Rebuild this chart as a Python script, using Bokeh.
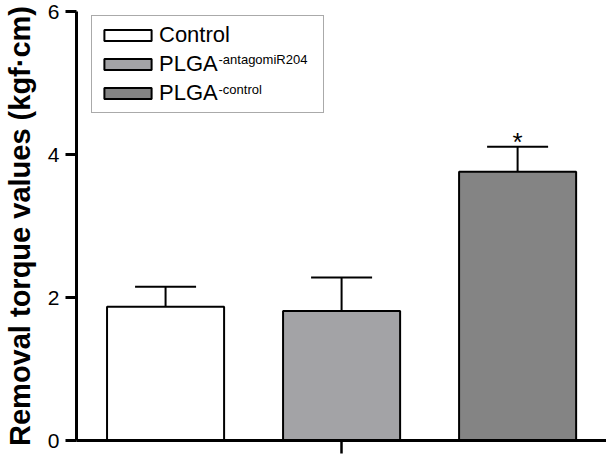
from bokeh.plotting import figure
from bokeh.models import (Range1d, FixedTicker, ColumnDataSource, Whisker, TeeHead,
                          Legend, LegendItem, Label)
from bokeh.core.properties import value
from bokeh.embed import file_html
from bokeh.resources import INLINE

# ---- data ----
groups = ["Control", "PLGA-antagomiR204", "PLGA-control"]
positions = [1, 2, 3]
means = [1.87, 1.81, 3.76]
errors = [0.28, 0.47, 0.35]
marks = ["", "", "*"]
fills = ["#ffffff", "#a3a3a6", "#848484"]
legend_main = ["Control", "PLGA", "PLGA"]
legend_sup = ["", "-antagomiR204", "-control"]
y_ticks = [0, 2, 4, 6]
y_label = "Removal torque values (kgf\u00b7cm)"

FONT = "Liberation Sans"

uppers = [m + e for m, e in zip(means, errors)]
src = ColumnDataSource(dict(x=positions, top=means, upper=uppers, fill=fills, group=groups))

star_idx = [i for i, m in enumerate(marks) if m]
star_src = ColumnDataSource(dict(x=[positions[i] for i in star_idx],
                                 y=[uppers[i] for i in star_idx],
                                 mark=[marks[i] for i in star_idx]))

p = figure(width=606, height=454, output_backend="svg", toolbar_location=None,
           x_range=Range1d(0.494, 3.505), y_range=Range1d(0, 6),
           min_border_left=76, min_border_right=0, min_border_top=11, min_border_bottom=14)
p.xgrid.visible = False
p.ygrid.visible = False
p.outline_line_color = None
p.background_fill_color = "white"

bars = p.vbar(x="x", top="top", bottom=0, width=0.665, fill_color="fill",
              line_color="black", line_width=2, source=src)

whisk = Whisker(source=src, base="x", upper="upper", lower="top", dimension="height",
                line_color="black", line_width=2,
                upper_head=TeeHead(size=61, line_width=2, line_color="black"),
                lower_head=None)
p.add_layout(whisk)

p.text(x="x", y="y", text="mark", source=star_src, text_font=value(FONT),
       text_font_size="26px", text_align="center", text_baseline="alphabetic",
       y_offset=-5, text_color="black")

# y axis
ya = p.yaxis[0]
ya.ticker = FixedTicker(ticks=y_ticks)
ya.axis_label = y_label
ya.axis_label_text_font = FONT
ya.axis_label_text_font_style = "bold"
ya.axis_label_text_font_size = "29px"
ya.axis_label_text_color = "black"
ya.axis_label_text_line_height = 1.0
ya.axis_label_standoff = 9
ya.major_label_text_font = FONT
ya.major_label_text_font_size = "21px"
ya.major_label_text_color = "black"
ya.major_label_standoff = 6
ya.major_tick_out = 11
ya.major_tick_in = 0
ya.minor_tick_out = 0
ya.minor_tick_in = 0
ya.axis_line_width = 3
ya.major_tick_line_width = 3

# x axis
xa = p.xaxis[0]
xa.ticker = FixedTicker(ticks=[2])
xa.major_label_overrides = {2: ""}
xa.major_label_standoff = 0
xa.major_tick_out = 13
xa.major_tick_in = 0
xa.minor_tick_out = 0
xa.minor_tick_in = 0
xa.axis_line_width = 3
xa.major_tick_line_width = 2.5

# legend
items = [LegendItem(label=legend_main[i], renderers=[bars], index=i) for i in range(len(groups))]
legend = Legend(items=items, location=(15, 327), glyph_width=59, glyph_height=14,
                label_standoff=2, label_text_font=FONT, label_text_font_size="22px",
                label_text_color="black",
                padding=6, spacing=3, margin=0, label_width=158,
                border_line_color="#555555", border_line_width=1.5,
                background_fill_alpha=0)
p.add_layout(legend)

row_y = [0, 381, 351.5]
for i, sup in enumerate(legend_sup):
    if sup:
        p.add_layout(Label(x=142, y=row_y[i], x_units="screen", y_units="screen",
                           text=sup, text_font=FONT, text_font_size="13px",
                           text_baseline="alphabetic", text_color="black"))

open("out.html", "w").write(file_html(p, INLINE))
